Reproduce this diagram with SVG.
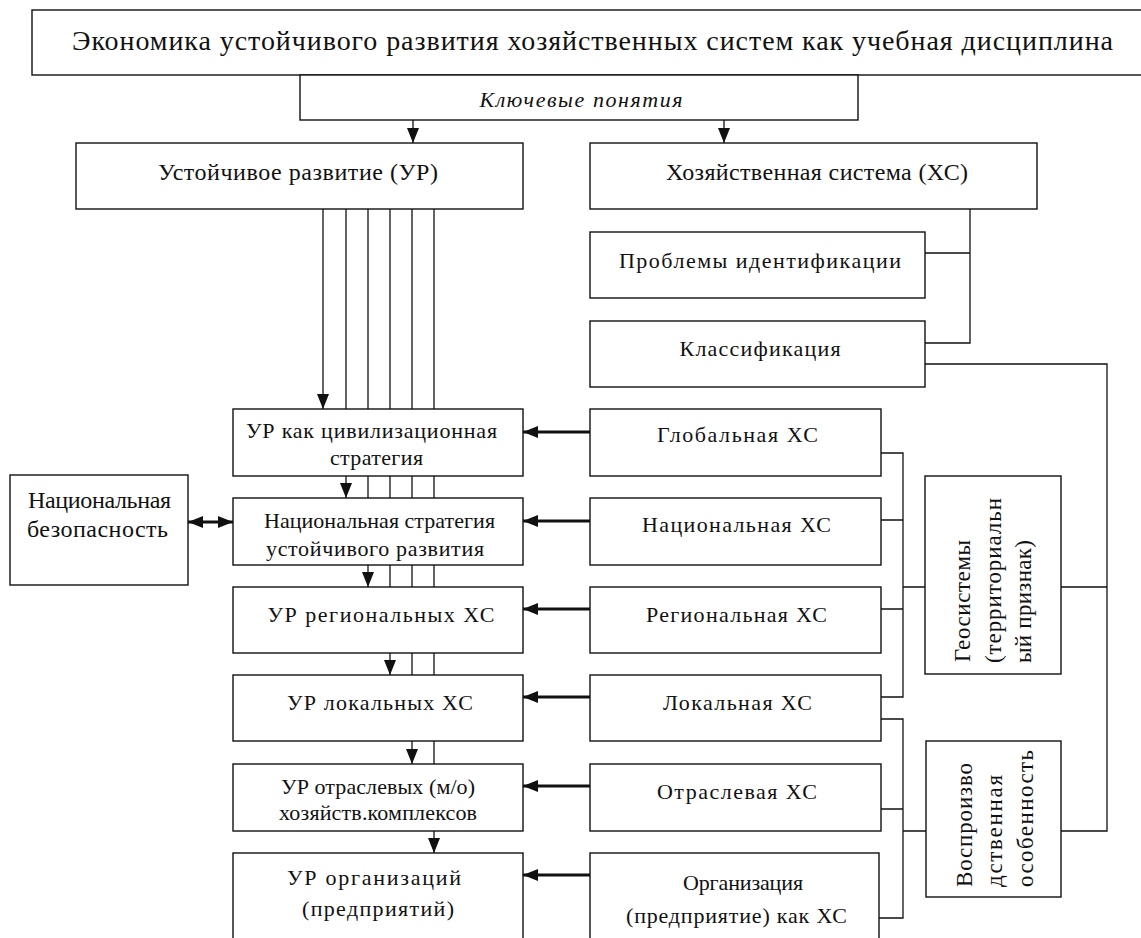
<svg xmlns="http://www.w3.org/2000/svg" width="1141" height="938" viewBox="0 0 1141 938">
<style>
.box{fill:#fff;stroke:#111;stroke-width:1.4}
text{font-family:"Liberation Serif","Times New Roman","DejaVu Serif",serif;font-size:22px;fill:#111;text-anchor:middle}
.tl{font-size:24px}
.ti{font-size:28px}
.it{font-style:italic;font-size:22px}
.r{text-anchor:start;font-size:23px}
.ln{fill:none;stroke:#111;stroke-width:1.3}
.th{fill:none;stroke:#111;stroke-width:3}
</style>
<defs>
<marker id="a" viewBox="0 0 15 12" markerWidth="15" markerHeight="12" refX="15" refY="6" orient="auto" markerUnits="userSpaceOnUse"><path d="M0,0 L15,6 L0,12 z" fill="#111"/></marker>
<marker id="as" viewBox="0 0 15 12" markerWidth="15" markerHeight="12" refX="0" refY="6" orient="auto" markerUnits="userSpaceOnUse"><path d="M15,0 L0,6 L15,12 z" fill="#111"/></marker>
</defs>
<rect width="1141" height="938" fill="#fff"/>
<g id="connectors">
<line class="ln" x1="413" y1="120" x2="413" y2="143" marker-end="url(#a)"/>
<line class="ln" x1="724" y1="120" x2="724" y2="143" marker-end="url(#a)"/>
<line class="ln" x1="323" y1="209" x2="323" y2="409" marker-end="url(#a)"/>
<line class="ln" x1="346" y1="209" x2="346" y2="498" marker-end="url(#a)"/>
<line class="ln" x1="368" y1="209" x2="368" y2="587" marker-end="url(#a)"/>
<line class="ln" x1="390" y1="209" x2="390" y2="675" marker-end="url(#a)"/>
<line class="ln" x1="412" y1="209" x2="412" y2="764" marker-end="url(#a)"/>
<line class="ln" x1="434" y1="209" x2="434" y2="853" marker-end="url(#a)"/>
<line class="th" x1="590" y1="432" x2="523" y2="432" marker-end="url(#a)"/>
<line class="th" x1="590" y1="521" x2="523" y2="521" marker-end="url(#a)"/>
<line class="th" x1="590" y1="609" x2="523" y2="609" marker-end="url(#a)"/>
<line class="th" x1="590" y1="697" x2="523" y2="697" marker-end="url(#a)"/>
<line class="th" x1="590" y1="786" x2="523" y2="786" marker-end="url(#a)"/>
<line class="th" x1="590" y1="875" x2="523" y2="875" marker-end="url(#a)"/>
<line class="th" x1="188" y1="522" x2="233" y2="522" marker-start="url(#as)" marker-end="url(#a)"/>
<path class="ln" d="M970,209 V343 H925 M925,253 H970"/>
<path class="ln" d="M925,364 H1107 V831 H1061 M1061,587 H1107"/>
<path class="ln" d="M881,453 H903 V697 H881 M881,520 H903 M881,609 H903 M903,587 H925"/>
<path class="ln" d="M881,719 H903 V918 H879 M881,809 H903 M903,831 H926"/>
</g>
<g id="title"><rect class="box" x="32" y="10" width="1125" height="65"/><text class="ti" x="592.5" y="50" textLength="1041" lengthAdjust="spacing">Экономика устойчивого развития хозяйственных систем как учебная дисциплина</text></g>
<g id="key"><rect class="box" x="300" y="75" width="558" height="45"/><text class="it" x="581" y="107" textLength="203" lengthAdjust="spacing">Ключевые понятия</text></g>
<g id="ur"><rect class="box" x="76" y="143" width="447" height="66"/><text class="tl" x="298" y="180" textLength="280" lengthAdjust="spacing">Устойчивое развитие (УР)</text></g>
<g id="hs"><rect class="box" x="590" y="143" width="447" height="66"/><text class="tl" x="817" y="180" textLength="302" lengthAdjust="spacing">Хозяйственная система (ХС)</text></g>
<g id="problems"><rect class="box" x="590" y="232" width="335" height="66"/><text x="760" y="268" textLength="282" lengthAdjust="spacing">Проблемы идентификации</text></g>
<g id="classif"><rect class="box" x="590" y="321" width="335" height="66"/><text x="760" y="356" textLength="161" lengthAdjust="spacing">Классификация</text></g>
<g id="global"><rect class="box" x="590" y="409" width="291" height="67"/><text x="737.5" y="442" textLength="161" lengthAdjust="spacing">Глобальная ХС</text></g>
<g id="national"><rect class="box" x="590" y="498" width="291" height="67"/><text x="736.5" y="532" textLength="189" lengthAdjust="spacing">Национальная ХС</text></g>
<g id="regional"><rect class="box" x="590" y="587" width="291" height="66"/><text x="736.5" y="622" textLength="181" lengthAdjust="spacing">Региональная ХС</text></g>
<g id="local"><rect class="box" x="590" y="675" width="291" height="66"/><text x="737.5" y="710" textLength="149" lengthAdjust="spacing">Локальная ХС</text></g>
<g id="sector"><rect class="box" x="590" y="764" width="291" height="67"/><text x="737" y="799" textLength="160" lengthAdjust="spacing">Отраслевая ХС</text></g>
<g id="org"><rect class="box" x="590" y="853" width="289" height="100"/><text x="743" y="890" textLength="120" lengthAdjust="spacing">Организация</text><text x="736.5" y="923" textLength="221" lengthAdjust="spacing">(предприятие) как ХС</text></g>
<g id="ur-civ"><rect class="box" x="233" y="409" width="290" height="67"/><text x="371.5" y="438" textLength="251" lengthAdjust="spacing">УР как цивилизационная</text><text x="376.5" y="465" textLength="93" lengthAdjust="spacing">стратегия</text></g>
<g id="ur-nat"><rect class="box" x="233" y="498" width="290" height="67"/><text x="379.5" y="528" textLength="231" lengthAdjust="spacing">Национальная стратегия</text><text x="375" y="556" textLength="218" lengthAdjust="spacing">устойчивого развития</text></g>
<g id="ur-reg"><rect class="box" x="233" y="587" width="290" height="66"/><text x="381" y="622" textLength="227" lengthAdjust="spacing">УР региональных ХС</text></g>
<g id="ur-loc"><rect class="box" x="233" y="675" width="290" height="66"/><text x="380" y="710" textLength="186" lengthAdjust="spacing">УР локальных ХС</text></g>
<g id="ur-sec"><rect class="box" x="233" y="764" width="290" height="67"/><text x="378" y="794" textLength="194" lengthAdjust="spacing">УР отраслевых (м/о)</text><text x="378" y="820" textLength="198" lengthAdjust="spacing">хозяйств.комплексов</text></g>
<g id="ur-org"><rect class="box" x="233" y="853" width="290" height="100"/><text x="374" y="885" textLength="174" lengthAdjust="spacing">УР организаций</text><text x="378" y="916" textLength="152" lengthAdjust="spacing">(предприятий)</text></g>
<g id="security"><rect class="box" x="10" y="475" width="178" height="110"/><text class="tl" x="99.5" y="508" textLength="143" lengthAdjust="spacing">Национальная</text><text class="tl" x="97.5" y="537" textLength="141" lengthAdjust="spacing">безопасность</text></g>
<g id="geo"><rect class="box" x="925" y="476" width="136" height="198"/>
<text class="r" transform="translate(970,662) rotate(-90)" textLength="122" lengthAdjust="spacing">Геосистемы</text>
<text class="r" transform="translate(1001,663) rotate(-90)" textLength="165" lengthAdjust="spacing">(территориальн</text>
<text class="r" transform="translate(1031,663) rotate(-90)" textLength="123" lengthAdjust="spacing">ый признак)</text></g>
<g id="repro"><rect class="box" x="926" y="741" width="135" height="156"/>
<text class="r" transform="translate(972,887) rotate(-90)" textLength="124" lengthAdjust="spacing">Воспроизво</text>
<text class="r" transform="translate(1002,887) rotate(-90)" textLength="112" lengthAdjust="spacing">дственная</text>
<text class="r" transform="translate(1033,887) rotate(-90)" textLength="137" lengthAdjust="spacing">особенность</text></g>
</svg>
